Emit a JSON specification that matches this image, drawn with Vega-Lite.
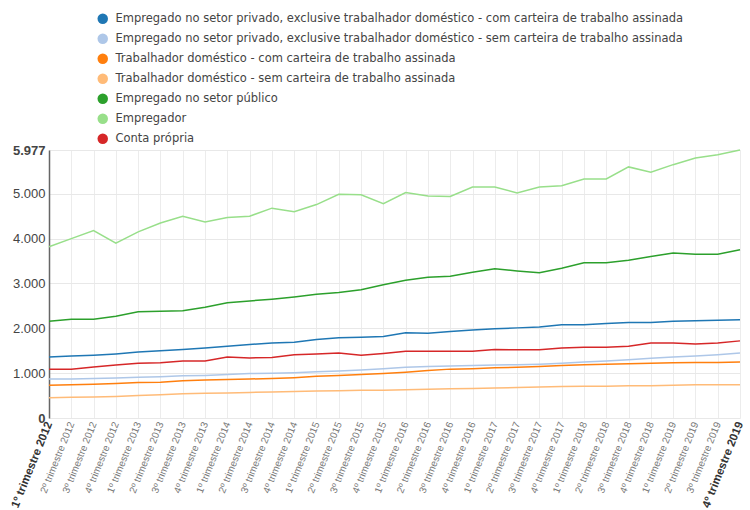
{
  "$schema": "https://vega.github.io/schema/vega-lite/v6.json",
  "width": 691,
  "height": 268,
  "autosize": {"type": "none"},
  "padding": {"left": 49, "top": 150, "right": 10, "bottom": 92},
  "config": {"view": {"stroke": null}, "font": "Liberation Sans"},
  "datasets": {
    "names": [
      {"k": "a", "nome": "Empregado no setor privado, exclusive trabalhador doméstico - com carteira de trabalho assinada"},
      {"k": "b", "nome": "Empregado no setor privado, exclusive trabalhador doméstico - sem carteira de trabalho assinada"},
      {"k": "c", "nome": "Trabalhador doméstico - com carteira de trabalho assinada"},
      {"k": "d", "nome": "Trabalhador doméstico - sem carteira de trabalho assinada"},
      {"k": "e", "nome": "Empregado no setor público"},
      {"k": "f", "nome": "Empregador"},
      {"k": "g", "nome": "Conta própria"}
    ]
  },
  "data": {"values": [
    {"q": "1º trimestre 2012", "a": 1360, "b": 870, "c": 730, "d": 450, "e": 2160, "f": 3820, "g": 1090},
    {"q": "2º trimestre 2012", "a": 1380, "b": 870, "c": 740, "d": 460, "e": 2200, "f": 4000, "g": 1090},
    {"q": "3º trimestre 2012", "a": 1400, "b": 880, "c": 750, "d": 470, "e": 2200, "f": 4180, "g": 1140},
    {"q": "4º trimestre 2012", "a": 1430, "b": 890, "c": 770, "d": 480, "e": 2270, "f": 3900, "g": 1180},
    {"q": "1º trimestre 2013", "a": 1470, "b": 910, "c": 790, "d": 500, "e": 2370, "f": 4150, "g": 1220},
    {"q": "2º trimestre 2013", "a": 1500, "b": 920, "c": 800, "d": 520, "e": 2380, "f": 4350, "g": 1230},
    {"q": "3º trimestre 2013", "a": 1530, "b": 940, "c": 830, "d": 540, "e": 2390, "f": 4500, "g": 1270},
    {"q": "4º trimestre 2013", "a": 1560, "b": 950, "c": 850, "d": 550, "e": 2470, "f": 4370, "g": 1270},
    {"q": "1º trimestre 2014", "a": 1600, "b": 970, "c": 860, "d": 560, "e": 2570, "f": 4470, "g": 1360},
    {"q": "2º trimestre 2014", "a": 1640, "b": 990, "c": 870, "d": 570, "e": 2610, "f": 4500, "g": 1340},
    {"q": "3º trimestre 2014", "a": 1670, "b": 1000, "c": 880, "d": 580, "e": 2650, "f": 4680, "g": 1350},
    {"q": "4º trimestre 2014", "a": 1690, "b": 1010, "c": 900, "d": 590, "e": 2700, "f": 4600, "g": 1410},
    {"q": "1º trimestre 2015", "a": 1750, "b": 1030, "c": 930, "d": 600, "e": 2760, "f": 4760, "g": 1430},
    {"q": "2º trimestre 2015", "a": 1790, "b": 1050, "c": 950, "d": 610, "e": 2800, "f": 4990, "g": 1450},
    {"q": "3º trimestre 2015", "a": 1800, "b": 1070, "c": 970, "d": 620, "e": 2860, "f": 4980, "g": 1400},
    {"q": "4º trimestre 2015", "a": 1820, "b": 1100, "c": 990, "d": 620, "e": 2970, "f": 4780, "g": 1440},
    {"q": "1º trimestre 2016", "a": 1900, "b": 1130, "c": 1020, "d": 630, "e": 3070, "f": 5030, "g": 1490},
    {"q": "2º trimestre 2016", "a": 1890, "b": 1150, "c": 1060, "d": 640, "e": 3140, "f": 4950, "g": 1490},
    {"q": "3º trimestre 2016", "a": 1930, "b": 1160, "c": 1090, "d": 650, "e": 3160, "f": 4940, "g": 1490},
    {"q": "4º trimestre 2016", "a": 1960, "b": 1170, "c": 1100, "d": 660, "e": 3250, "f": 5150, "g": 1490},
    {"q": "1º trimestre 2017", "a": 1990, "b": 1180, "c": 1120, "d": 670, "e": 3330, "f": 5150, "g": 1530},
    {"q": "2º trimestre 2017", "a": 2010, "b": 1190, "c": 1130, "d": 680, "e": 3280, "f": 5020, "g": 1520},
    {"q": "3º trimestre 2017", "a": 2030, "b": 1200, "c": 1150, "d": 690, "e": 3240, "f": 5150, "g": 1520},
    {"q": "4º trimestre 2017", "a": 2080, "b": 1220, "c": 1170, "d": 700, "e": 3340, "f": 5180, "g": 1560},
    {"q": "1º trimestre 2018", "a": 2080, "b": 1250, "c": 1190, "d": 710, "e": 3460, "f": 5330, "g": 1580},
    {"q": "2º trimestre 2018", "a": 2110, "b": 1270, "c": 1200, "d": 710, "e": 3460, "f": 5330, "g": 1580},
    {"q": "3º trimestre 2018", "a": 2130, "b": 1300, "c": 1210, "d": 720, "e": 3520, "f": 5600, "g": 1600},
    {"q": "4º trimestre 2018", "a": 2130, "b": 1330, "c": 1220, "d": 720, "e": 3600, "f": 5480, "g": 1670},
    {"q": "1º trimestre 2019", "a": 2160, "b": 1360, "c": 1230, "d": 730, "e": 3680, "f": 5650, "g": 1670},
    {"q": "2º trimestre 2019", "a": 2170, "b": 1380, "c": 1240, "d": 740, "e": 3650, "f": 5800, "g": 1650},
    {"q": "3º trimestre 2019", "a": 2180, "b": 1410, "c": 1240, "d": 740, "e": 3650, "f": 5870, "g": 1670},
    {"q": "4º trimestre 2019", "a": 2190, "b": 1450, "c": 1250, "d": 740, "e": 3750, "f": 5977, "g": 1720}
  ]},
  "transform": [
    {"fold": ["a", "b", "c", "d", "e", "f", "g"], "as": ["k", "valor"]},
    {"lookup": "k", "from": {"data": {"name": "names"}, "key": "k", "fields": ["nome"]}}
  ],
  "mark": {"type": "line", "strokeWidth": 1.5, "interpolate": "linear"},
  "encoding": {
    "x": {
      "field": "q", "type": "ordinal", "sort": null,
      "scale": {"type": "point", "padding": 0},
      "axis": {
        "title": null, "labelAngle": -68, "ticks": false, "domain": false,
        "grid": true, "gridColor": "#ececec", "gridWidth": 1,
        "labelFontSize": {"condition": {"test": "datum.value == '1º trimestre 2012' || datum.value == '4º trimestre 2019'", "value": 11.5}, "value": 10},
        "labelFontWeight": {"condition": {"test": "datum.value == '1º trimestre 2012' || datum.value == '4º trimestre 2019'", "value": "bold"}, "value": "normal"},
        "labelColor": {"condition": {"test": "datum.value == '1º trimestre 2012' || datum.value == '4º trimestre 2019'", "value": "#333"}, "value": "#777"},
        "labelPadding": 4, "labelOverlap": false, "labelBound": false, "labelFlush": false
      }
    },
    "y": {
      "field": "valor", "type": "quantitative",
      "scale": {"domain": [0, 5977], "nice": false, "zero": true},
      "axis": {
        "title": null, "values": [0, 1000, 2000, 3000, 4000, 5000, 5977],
        "labelExpr": "replace(format(datum.value, ','), ',', '.')",
        "ticks": false, "domainColor": "#666", "domainWidth": 1.5,
        "gridColor": "#e8e8e8", "labelFontSize": 13, "labelColor": "#444",
        "labelFontWeight": {"condition": {"test": "datum.value == 0 || datum.value == 5977", "value": "bold"}, "value": "normal"},
        "labelPadding": 4, "labelFlush": false
      }
    },
    "color": {
      "field": "nome", "type": "nominal",
      "scale": {
        "domain": [
          "Empregado no setor privado, exclusive trabalhador doméstico - com carteira de trabalho assinada",
          "Empregado no setor privado, exclusive trabalhador doméstico - sem carteira de trabalho assinada",
          "Trabalhador doméstico - com carteira de trabalho assinada",
          "Trabalhador doméstico - sem carteira de trabalho assinada",
          "Empregado no setor público",
          "Empregador",
          "Conta própria"
        ],
        "range": ["#1f77b4", "#aec7e8", "#ff7f0e", "#ffbb78", "#2ca02c", "#98df8a", "#d62728"]
      },
      "legend": {
        "title": null, "orient": "none", "legendX": 48, "legendY": -137,
        "symbolType": "circle", "symbolSize": 110, "symbolStrokeWidth": 0,
        "labelFont": "DejaVu Sans",
        "labelFontSize": 11.5, "labelColor": "#444", "rowPadding": 7,
        "labelLimit": 700, "labelOffset": 7,
        "encode": {"symbols": {"update": {"fill": {"scale": "color", "field": "value"}, "strokeWidth": {"value": 0}}}}
      }
    }
  }
}
